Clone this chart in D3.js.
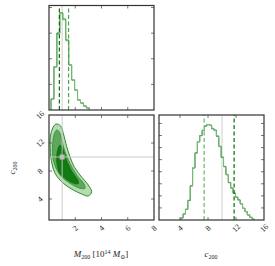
<!DOCTYPE html>
<html>
<head>
<meta charset="utf-8">
<script src="https://cdn.jsdelivr.net/npm/d3@7"></script>
<style>
  body { margin: 0; background: #fff; }
  svg { display: block; font-family: "Liberation Serif", "DejaVu Serif", serif; }
  .frame { fill: none; stroke: #333; stroke-width: 1.2; }
  .tick { stroke: #555; stroke-width: 0.8; }
  .lbl { font-size: 8px; fill: #222; }
</style>
</head>
<body>
<svg width="275" height="266"></svg>
<script>
// M200 histogram (two chains), bins start at 0.15, width 0.225
var mBinStart = 0.15, mBinWidth = 0.225;
var mDark  = [430, 1680, 3005, 3790, 3550, 2730, 1760, 1170, 780, 390, 275, 155, 80];
var mLight = [430, 1700, 2950, 3790, 3520, 2700, 1760, 1180, 770, 400, 270, 150, 80];
var mLo = 0.79, mHi = 1.49, mTrue = 1.0;

// c200 histogram (two chains), bins start at 4.1, width 0.34
var cBinStart = 4.1, cBinWidth = 0.34;
var cDark  = [33, 100, 178, 322, 567, 862, 1112, 1295, 1400, 1488, 1555, 1583, 1572, 1512, 1488,
              1388, 1222, 1038, 888, 750, 622, 528, 445, 378, 333, 267, 195, 138, 83, 45, 12];
var cLight = [33, 95, 180, 330, 560, 870, 1105, 1300, 1395, 1480, 1560, 1583, 1565, 1520, 1480,
              1395, 1215, 1045, 880, 755, 615, 530, 440, 380, 328, 270, 190, 140, 85, 42, 12];
var cLo = 7.45, cHi = 11.73, cTrue = 10.0;

// 2D credible regions (M200, c200)
var outer = [[0.53,14.71],[0.25,14.0],[0.08,12.43],[0.1,11.2],[0.13,10.04],[0.46,7.67],[1.09,6.24],[1.85,5.29],
             [2.49,4.71],[2.99,4.43],[3.25,5.04],[2.99,6.0],[2.36,7.43],[1.85,8.86],[1.6,10.04],[1.35,11.47],
             [1.09,13.39],[0.89,14.43]];
var middle = [[0.59,13.86],[0.4,13.3],[0.28,11.96],[0.33,9.57],[0.84,7.43],[1.6,6.24],[2.36,5.53],[2.74,5.53],
              [2.67,6.14],[2.11,7.43],[1.6,9.1],[1.22,10.76],[0.97,12.43],[0.78,13.6]];
var inner = [[0.84,11.7],[0.68,11.2],[0.58,10.0],[0.62,8.8],[0.8,7.7],[1.22,6.96],[1.85,6.24],[2.25,6.2],
             [2.2,6.7],[1.73,8.0],[1.35,9.5],[1.1,11.0],[0.97,11.5]];

var mTicks = [2, 4, 6, 8];
var cTicks = [4, 8, 12, 16];

var dark = "#0b6b0b", light = "#7fbf7f";

var svg = d3.select("svg");

var x0 = 49, x1 = 154, x2 = 159, x3 = 264;
var yTop0 = 5.5, yTop1 = 110, yBot0 = 115, yBot1 = 220;

var mx = d3.scaleLinear().domain([0, 8]).range([x0, x1]);
var cx = d3.scaleLinear().domain([1, 16]).range([x2, x3]);
var cy = d3.scaleLinear().domain([1, 16]).range([yBot1, yBot0]);
var mh = d3.scaleLinear().domain([0, 4080]).range([yTop1, yTop0]);
var ch = d3.scaleLinear().domain([0, 1740]).range([yBot1, yBot0]);

function ticks(g, xs, ys, xsc, ysc) {
  var xr = xsc.range(), yr = ysc.range();
  xs.forEach(function(v) {
    var px = xsc(v);
    g.append("line").attr("class", "tick").attr("x1", px).attr("x2", px).attr("y1", yr[0]).attr("y2", yr[0] - 3);
    g.append("line").attr("class", "tick").attr("x1", px).attr("x2", px).attr("y1", yr[1]).attr("y2", yr[1] + 3);
  });
  ys.forEach(function(v) {
    var py = ysc(v);
    g.append("line").attr("class", "tick").attr("x1", xr[0]).attr("x2", xr[0] + 3).attr("y1", py).attr("y2", py);
    g.append("line").attr("class", "tick").attr("x1", xr[1]).attr("x2", xr[1] - 3).attr("y1", py).attr("y2", py);
  });
}

function hist(g, vals, start, width, xsc, ysc, color) {
  var pts = [[start, 0]];
  vals.forEach(function(v, i) { pts.push([start + i * width, v]); });
  pts.push([start + vals.length * width, 0]);
  g.append("path")
      .attr("fill", "none")
      .attr("stroke", color)
      .attr("stroke-width", 1)
      .attr("d", d3.line()
          .x(function(d) { return xsc(d[0]); })
          .y(function(d) { return ysc(d[1]); })
          .curve(d3.curveStepAfter)(pts));
}

function vline(g, v, xsc, ysc, color, dash) {
  var yr = ysc.range();
  g.append("line")
      .attr("x1", xsc(v)).attr("x2", xsc(v))
      .attr("y1", yr[0]).attr("y2", yr[1])
      .attr("stroke", color)
      .attr("stroke-width", dash ? 1.2 : 0.9)
      .attr("stroke-dasharray", dash ? "4,2.5" : null);
}

// ---- top-left: M200 marginal
var gA = svg.append("g");
vline(gA, mTrue, mx, mh, "#c8c8c8", false);
hist(gA, mDark, mBinStart, mBinWidth, mx, mh, dark);
hist(gA, mLight, mBinStart, mBinWidth, mx, mh, light);
vline(gA, mLo, mx, mh, dark, true);
vline(gA, mHi, mx, mh, "#4ea24e", true);
ticks(gA, [2, 4, 6], [1000, 2000, 3000, 4000], mx, mh);
gA.append("rect").attr("class", "frame").attr("x", x0).attr("y", yTop0).attr("width", x1 - x0).attr("height", yTop1 - yTop0);

// ---- bottom-left: joint
var gB = svg.append("g");
var shape = d3.line()
    .x(function(d) { return mx(d[0]); })
    .y(function(d) { return cy(d[1]); })
    .curve(d3.curveCatmullRomClosed);
gB.append("path").attr("d", shape(outer)).attr("fill", "#b5dbb0").attr("stroke", "#2e8b2e").attr("stroke-width", 1);
gB.append("path").attr("d", shape(middle)).attr("fill", "#5ea85e").attr("stroke", "#2e8b2e").attr("stroke-width", 0.8);
gB.append("path").attr("d", shape(inner)).attr("fill", "#117a11").attr("stroke", "#0b6b0b").attr("stroke-width", 0.6);
gB.append("line").attr("x1", mx(mTrue)).attr("x2", mx(mTrue)).attr("y1", yBot1).attr("y2", yBot0)
    .attr("stroke", "#c8c8c8").attr("stroke-width", 0.9);
gB.append("line").attr("x1", x0).attr("x2", x1).attr("y1", cy(cTrue)).attr("y2", cy(cTrue))
    .attr("stroke", "#c8c8c8").attr("stroke-width", 0.9);
gB.append("rect").attr("x", mx(mTrue) - 2.5).attr("y", cy(cTrue) - 2.5).attr("width", 5).attr("height", 5)
    .attr("fill", "#bdbdbd");
ticks(gB, [2, 4, 6], [4, 8, 12], mx, cy);
gB.append("rect").attr("class", "frame").attr("x", x0).attr("y", yBot0).attr("width", x1 - x0).attr("height", yBot1 - yBot0);

// ---- bottom-right: c200 marginal
var gC = svg.append("g");
vline(gC, cTrue, cx, ch, "#c8c8c8", false);
hist(gC, cDark, cBinStart, cBinWidth, cx, ch, dark);
hist(gC, cLight, cBinStart, cBinWidth, cx, ch, light);
vline(gC, cLo, cx, ch, "#6db46d", true);
vline(gC, cHi, cx, ch, dark, true);
ticks(gC, [4, 8, 12], d3.range(200, 1740, 200), cx, ch);
gC.append("rect").attr("class", "frame").attr("x", x2).attr("y", yBot0).attr("width", x3 - x2).attr("height", yBot1 - yBot0);

// ---- tick labels (rotated)
function rotLabel(px, py, txt) {
  svg.append("text").attr("class", "lbl")
      .attr("transform", "translate(" + px + "," + py + ") rotate(-45)")
      .attr("text-anchor", "middle")
      .attr("dy", "0.35em")
      .text(txt);
}
mTicks.forEach(function(v) { rotLabel(mx(v), yBot1 + 8, v); });
cTicks.forEach(function(v) { rotLabel(cx(v), yBot1 + 8, v); });
cTicks.forEach(function(v) { rotLabel(x0 - 9, cy(v), v); });

// ---- axis titles
var xt = svg.append("text").attr("x", 101).attr("y", 257).attr("text-anchor", "middle")
    .style("font-size", "9px").attr("fill", "#222");
xt.append("tspan").style("font-style", "italic").text("M");
xt.append("tspan").attr("dy", 2).style("font-size", "6px").text("200");
xt.append("tspan").attr("dy", -2).text(" [10");
xt.append("tspan").attr("dy", -3.5).style("font-size", "6px").text("14");
xt.append("tspan").attr("dy", 3.5).text(" ");
xt.append("tspan").style("font-style", "italic").text("M");
xt.append("tspan").attr("dy", 2).style("font-size", "6px").text("⊙");
xt.append("tspan").attr("dy", -2).text("]");

var ct = svg.append("text").attr("x", 211).attr("y", 257).attr("text-anchor", "middle")
    .style("font-size", "9px").attr("fill", "#222");
ct.append("tspan").style("font-style", "italic").text("c");
ct.append("tspan").attr("dy", 2).style("font-size", "6px").text("200");

var yt = svg.append("text").attr("transform", "translate(15,168) rotate(-90)").attr("text-anchor", "middle")
    .style("font-size", "9px").attr("fill", "#222");
yt.append("tspan").style("font-style", "italic").text("c");
yt.append("tspan").attr("dy", 2).style("font-size", "6px").text("200");
</script>
</body>
</html>
